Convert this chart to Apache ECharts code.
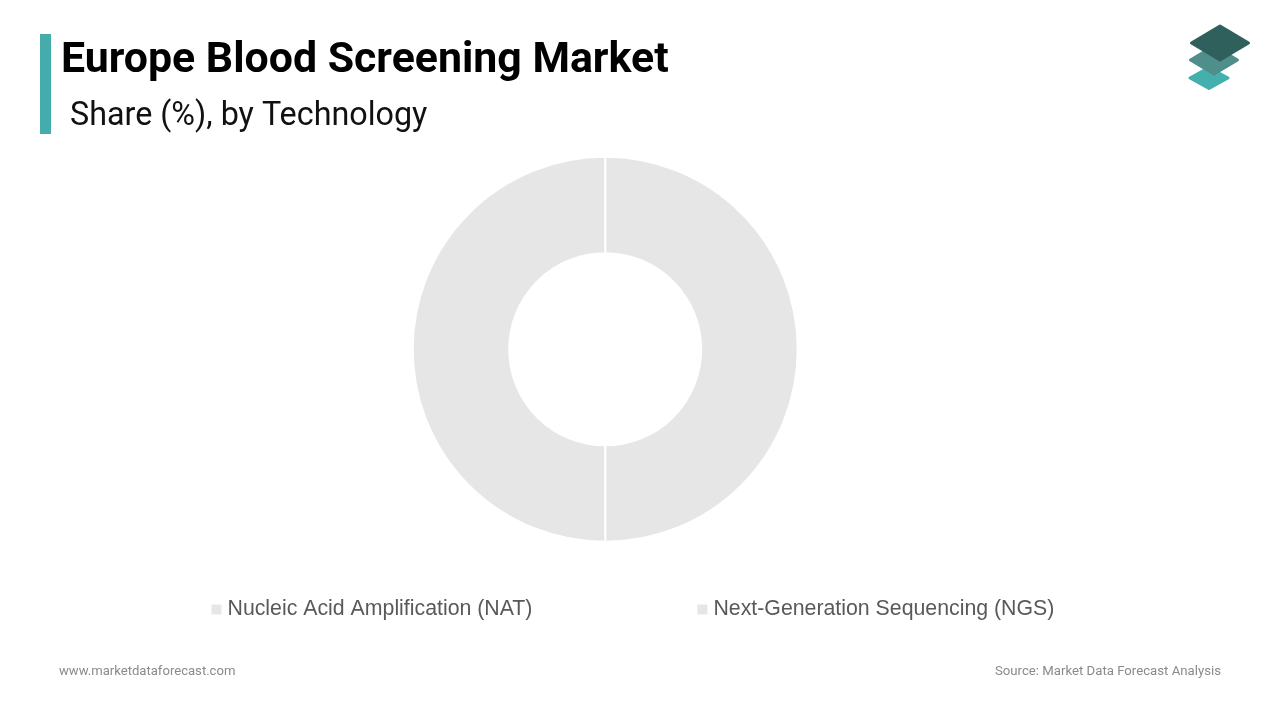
<!DOCTYPE html>
<html>
<head>
<meta charset="utf-8">
<title>Europe Blood Screening Market</title>
<script src="https://cdn.jsdelivr.net/npm/echarts@6/dist/echarts.min.js"></script>
<style>
  html, body { margin: 0; padding: 0; background: #fff; }
  #chart { width: 1280px; height: 720px; }
</style>
</head>
<body>
<div id="chart"></div>
<script>
const categories = ['Nucleic Acid Amplification (NAT)', 'Next-Generation Sequencing (NGS)'];
const shareValues = [50, 50];
const sliceColors = ['#e6e6e6', '#e6e6e6'];

const chart = echarts.init(document.getElementById('chart'));

// logo sheets, back to front
const diamond = (cx, cy, w, h, fill) => ({
  type: 'polygon',
  shape: { points: [[cx - w, cy], [cx, cy - h], [cx + w, cy], [cx, cy + h]] },
  style: { fill: fill, stroke: fill, lineWidth: 3, lineJoin: 'round' }
});

chart.setOption({
  animation: false,
  backgroundColor: '#ffffff',
  title: [
    {
      text: 'Europe Blood Screening Market',
      left: 56, top: 35,
      textStyle: { fontFamily: 'Roboto', fontSize: 42.85, fontWeight: 'bold', color: '#000000' }
    },
    {
      text: 'Share (%), by Technology',
      left: 65, top: 95.5,
      textStyle: { fontFamily: 'Roboto', fontSize: 32.3, fontWeight: 'normal', color: '#111111' }
    },
    {
      text: 'www.marketdataforecast.com',
      left: 54, top: 660,
      textStyle: { fontFamily: 'Roboto', fontSize: 13.1, fontWeight: 'normal', color: '#8a8a8a' }
    },
    {
      text: 'Source: Market Data Forecast Analysis',
      right: 54, top: 660,
      textStyle: { fontFamily: 'Roboto', fontSize: 13.2, fontWeight: 'normal', color: '#8a8a8a' }
    }
  ],
  legend: {
    data: categories,
    left: 204.5, top: 594,
    icon: 'rect',
    itemWidth: 12, itemHeight: 12,
    itemGap: 163,
    textStyle: { fontFamily: 'Liberation Sans', fontSize: 21.3, color: '#595959' }
  },
  series: [{
    type: 'pie',
    center: [605.2, 349.3],
    radius: [96, 192.5],
    startAngle: 90,
    silent: true,
    label: { show: false },
    labelLine: { show: false },
    itemStyle: { borderColor: '#ffffff', borderWidth: 2 },
    data: categories.map((name, i) => ({
      name: name,
      value: shareValues[i],
      itemStyle: { color: sliceColors[i] }
    }))
  }],
  graphic: [
    { type: 'rect', shape: { x: 40, y: 34, width: 11, height: 100 }, style: { fill: '#45abab' } },
    diamond(1209, 78, 19, 10.5, '#43b0ae'),
    diamond(1214, 60, 23.5, 14, '#4f8f8b'),
    diamond(1220, 43, 28.5, 17, '#2f605c')
  ]
});

window.addEventListener('resize', () => {
  chart.resize();
});
</script>
</body>
</html>
